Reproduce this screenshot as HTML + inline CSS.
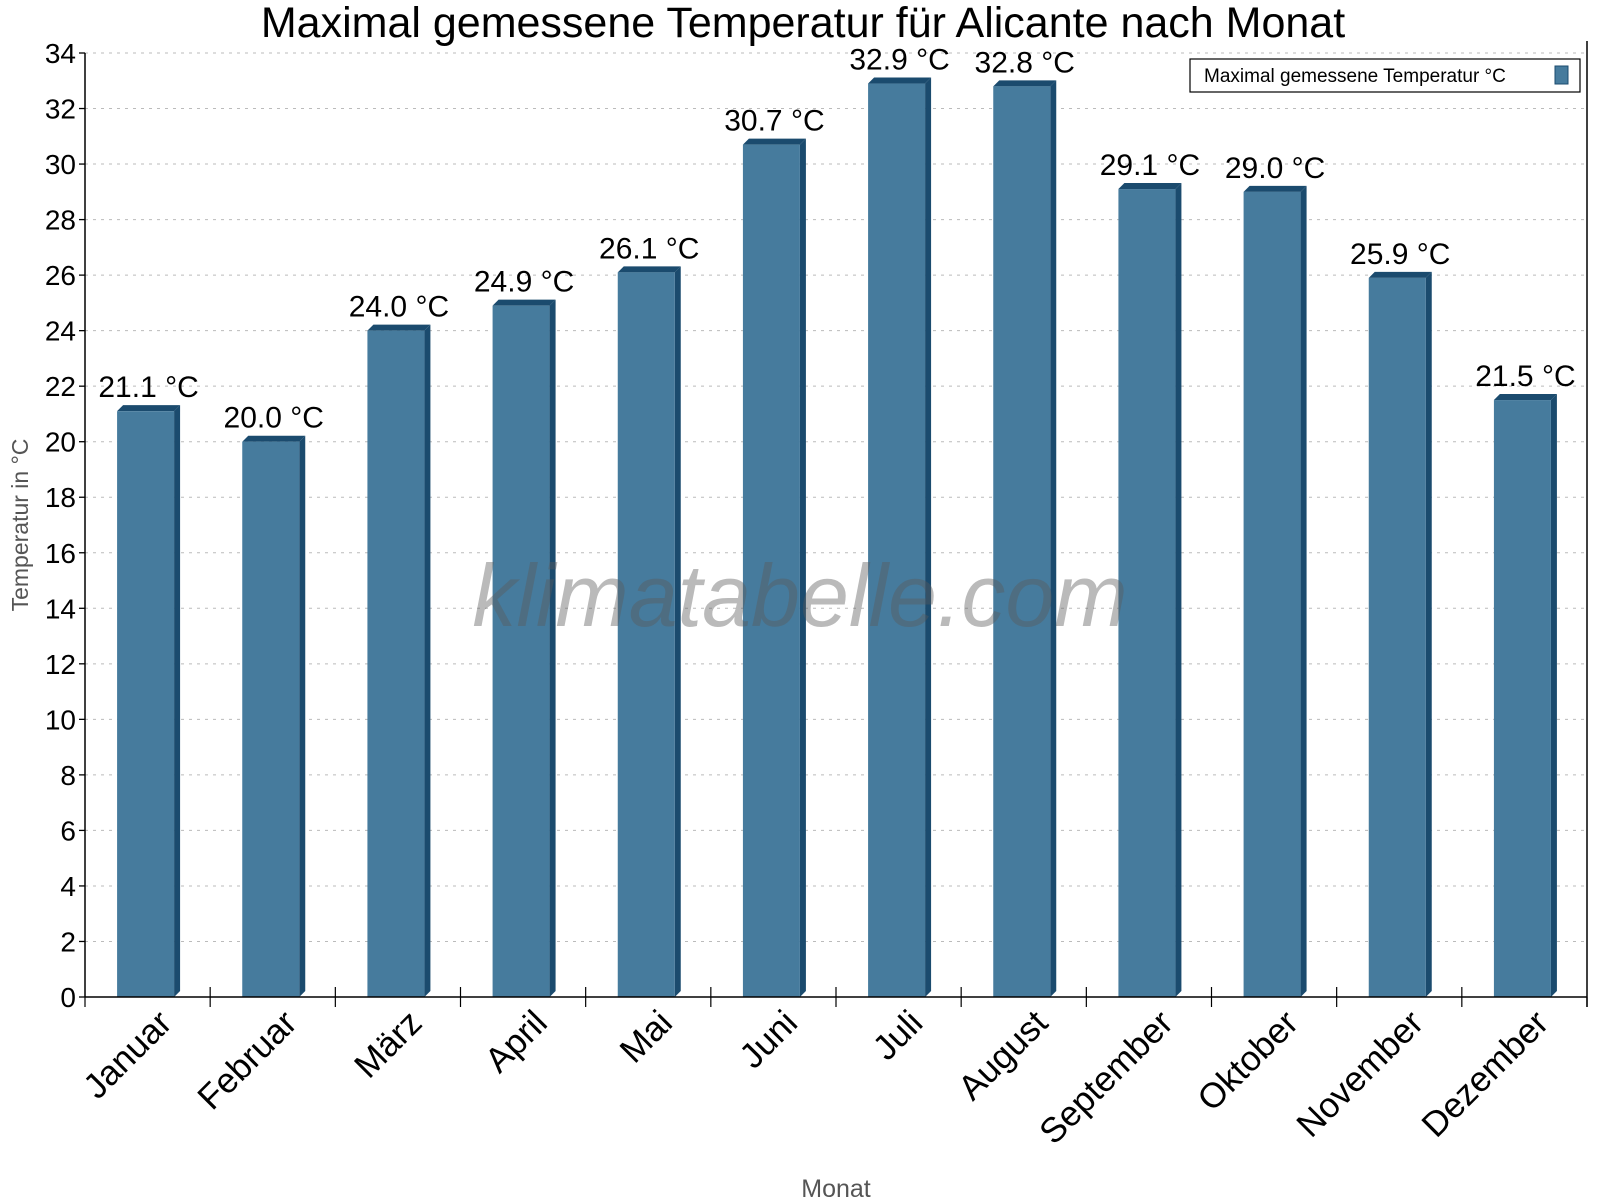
<!DOCTYPE html>
<html><head><meta charset="utf-8"><style>
body{margin:0;background:#fff}
svg{display:block;font-family:"Liberation Sans",Arial,sans-serif}
</style></head><body>
<svg id="chart" width="1600" height="1200" viewBox="0 0 1600 1200">
<text x="803" y="37" font-size="43" text-anchor="middle" fill="#000">Maximal gemessene Temperatur für Alicante nach Monat</text>
<g id="grid"></g>
<text x="836" y="1197" font-size="25" text-anchor="middle" fill="#555">Monat</text>
<text transform="translate(28,525) rotate(-90)" font-size="23" text-anchor="middle" fill="#555">Temperatur in °C</text>
<g id="bars"></g>
<text x="800" y="626" font-size="88" font-style="italic" text-anchor="middle" fill="rgba(90,90,90,0.42)">klimatabelle.com</text>
<g id="axes"></g>
<g>
<rect x="1190" y="59" width="390" height="33" fill="#fff" stroke="#000" stroke-width="1.2"/>
<text x="1204" y="82" font-size="19" fill="#000">Maximal gemessene Temperatur °C</text>
<rect x="1555" y="66" width="13" height="18" fill="#467b9d" stroke="#1b4b6e" stroke-width="1"/>
</g>
</svg>
<script>
const categories=["Januar","Februar","März","April","Mai","Juni","Juli","August","September","Oktober","November","Dezember"];
const values=[21.1,20.0,24.0,24.9,26.1,30.7,32.9,32.8,29.1,29.0,25.9,21.5];
const yTicks=[0,2,4,6,8,10,12,14,16,18,20,22,24,26,28,30,32,34];
const NS="http://www.w3.org/2000/svg";
const L=85,R=1587,T=53,B=997,YMAX=34;
const y=v=>B-(v/YMAX)*(B-T);
const bw=(R-L)/categories.length;
const x=i=>L+bw*i;
function mk(tag,attrs,parent){const e=document.createElementNS(NS,tag);for(const k in attrs)e.setAttribute(k,attrs[k]);parent.appendChild(e);return e;}
const grid=document.getElementById('grid'),axes=document.getElementById('axes'),bars=document.getElementById('bars');
yTicks.forEach(t=>{
  const yy=y(t);
  if(t>0){const g=mk('line',{x1:L,x2:R,y1:yy,y2:yy,stroke:'#bbb','stroke-dasharray':'3,5','stroke-width':1},grid);
  
  }
  const tk=mk('line',{x1:L-6,x2:L,y1:yy,y2:yy,stroke:'#000','stroke-width':1.3},axes);
  
  
  const lb=mk('text',{x:L-9,y:yy+10,'font-size':28,'text-anchor':'end',fill:'#000'},axes);
  lb.textContent=t;
  
  
});
const ax1=mk('line',{x1:L,x2:L,y1:T,y2:B,stroke:'#000','stroke-width':1.5},axes);


const ax2=mk('line',{x1:L,x2:R,y1:B,y2:B,stroke:'#000','stroke-width':1.5},axes);


const ax3=mk('line',{x1:R,x2:R,y1:T-12,y2:B+10,stroke:'#000','stroke-width':1.5},axes);


for(let i=0;i<=categories.length;i++){
  const xt=mk('line',{x1:x(i),x2:x(i),y1:B-(i>0&&i<categories.length?10:0),y2:B+10,stroke:'#000','stroke-width':1.2},axes);
  
  
}
const fw=57,d=6;
values.forEach((v,i)=>{
  const cx=x(i)+bw/2-2,x0=cx-fw/2,yt=y(v);
  const g=mk('g',{},bars);
  
  
  mk('polygon',{points:`${x0+fw},${yt} ${x0+fw+d},${yt-d} ${x0+fw+d},${B-d} ${x0+fw},${B}`,fill:'#1b4b6e'},g);
  mk('polygon',{points:`${x0},${yt} ${x0+d},${yt-d} ${x0+fw+d},${yt-d} ${x0+fw},${yt}`,fill:'#1b4b6e'},g);
  mk('rect',{x:x0,y:yt,width:fw,height:B-yt,fill:'#467b9d'},g);
  const lb=mk('text',{x:cx+3,y:yt-14,'font-size':30,'text-anchor':'middle',fill:'#000'},bars);
  lb.textContent=v.toFixed(1)+' °C';
  
  
  const xl=x(i)+bw/2+26,yl=B+28;
  const cl=mk('text',{x:xl,y:yl,'font-size':35,'text-anchor':'end',fill:'#000',transform:`rotate(-45 ${xl} ${yl})`},axes);
  cl.textContent=categories[i];
  
  
});
</script>
</body></html>
